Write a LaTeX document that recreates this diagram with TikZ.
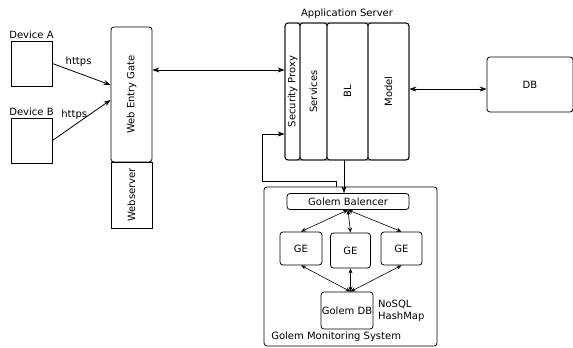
\documentclass[tikz,border=0pt]{standalone}
\usepackage{fontspec}
\setmainfont{DejaVu Sans}
\usetikzlibrary{arrows.meta,positioning}

\begin{document}
\begin{tikzpicture}[x=1pt,y=-1pt,line width=0.8pt,
	font=\fontsize{10}{12}\selectfont,
	box/.style={draw,inner sep=0pt},
	rbox/.style={box,rounded corners=3pt},
	arr/.style={-{Stealth[length=7pt,width=5pt]}},
	dbl/.style={{Stealth[length=7pt,width=5pt]}-{Stealth[length=7pt,width=5pt]}},
	sdbl/.style={line width=0.6pt,{Stealth[length=5pt,width=4pt]}-{Stealth[length=5pt,width=4pt]}}]
	\useasboundingbox (0,0) rectangle (573,348);
	\node[box,minimum width=41pt,minimum height=45pt] (devA) at (31.5,63.5) {};
	\node[box,minimum width=41pt,minimum height=45pt] (devB) at (31.5,140.5) {};
	\node[above=-1.5pt of devA] (labA) {Device A};
	\node[above=-1.5pt of devB] (labB) {Device B};
	\node[rbox,minimum width=41pt,minimum height=135pt] (gate) at (131.5,94.5) {};
	\node[rotate=90] (gateTxt) at (gate) {Web Entry Gate};
	\node[box,minimum width=41pt,minimum height=66pt] (web) at (131.5,195) {};
	\node[rotate=90] (webTxt) at (web) {Webserver};
	\draw[arr] (devA.east) -- node[pos=0.45,above=3pt] (httpsA) {https} (gate.west |- 0,85);
	\draw[arr] (devB.east) -- node[pos=0.3,above left=5pt and -21pt] (httpsB) {https} (gate.west |- 0,100);
	% application server
	\node[rbox,minimum width=124pt,minimum height=137pt] (app) at (347,91.5) {};
	\node[above=0pt of app] (appTxt) {Application Server};
	\node[rbox,minimum width=15pt,minimum height=137pt] (proxy) at (292.5,91.5) {};
	\node[rbox,minimum width=27pt,minimum height=137pt] (serv) at (313.5,91.5) {};
	\node[rbox,minimum width=41pt,minimum height=137pt] (bl) at (347.5,91.5) {};
	\node[rbox,minimum width=41pt,minimum height=137pt] (model) at (388.5,91.5) {};
	\node[rotate=90] (proxyTxt) at (proxy) {Security Proxy};
	\node[rotate=90] (servTxt) at (serv) {Services};
	\node[rotate=90] (blTxt) at (bl) {BL};
	\node[rotate=90] (modelTxt) at (model) {Model};
	\draw[dbl] (gate.east |- 0,70) -- (proxy.west |- 0,70);
	\node[rbox,minimum width=86pt,minimum height=55pt] (db) at (530,84.5) {DB};
	\draw[dbl] (model.east |- 0,89) -- (db.west |- 0,89);
	% golem
	\node[rbox,minimum width=173pt,minimum height=159pt] (gms) at (350.5,266.5) {};
	\node[anchor=south west] (gmsTxt) at ([xshift=4pt,yshift=1pt]gms.south west) {Golem Monitoring System};
	\node[rbox,minimum width=122pt,minimum height=16pt] (bal) at (348,201.5) {Golem Balencer};
	\node[rbox,minimum width=42pt,minimum height=33pt] (ge1) at (301,248.5) {GE};
	\node[rbox,minimum width=40pt,minimum height=35pt] (ge2) at (350.5,250.5) {GE};
	\node[rbox,minimum width=41pt,minimum height=33pt] (ge3) at (401.5,248.5) {GE};
	\node[rbox,minimum width=52pt,minimum height=37pt] (gdb) at (347,310.5) {Golem DB};
	\node[right=1pt of gdb,align=left] (nosql) {NoSQL\\HashMap};
	\draw[sdbl] (bal.south) -- (ge1.north);
	\draw[sdbl] (bal.south) -- (ge2.north);
	\draw[sdbl] (bal.south) -- (ge3.north);
	\draw[sdbl] (ge1.south) -- (gdb.north -| ge2);
	\draw[sdbl] (ge2.south) -- (gdb.north -| ge2);
	\draw[sdbl] (ge3.south) -- (gdb.north -| ge2);
	\draw[arr,line width=0.6pt] (app.south -| 344,0) -- (bal.north -| 344,0);
	\draw[arr,line width=0.6pt] (gms.north -| 336,0) |- (262,181) |- (proxy.west |- 0,134);
\end{tikzpicture}
\end{document}
